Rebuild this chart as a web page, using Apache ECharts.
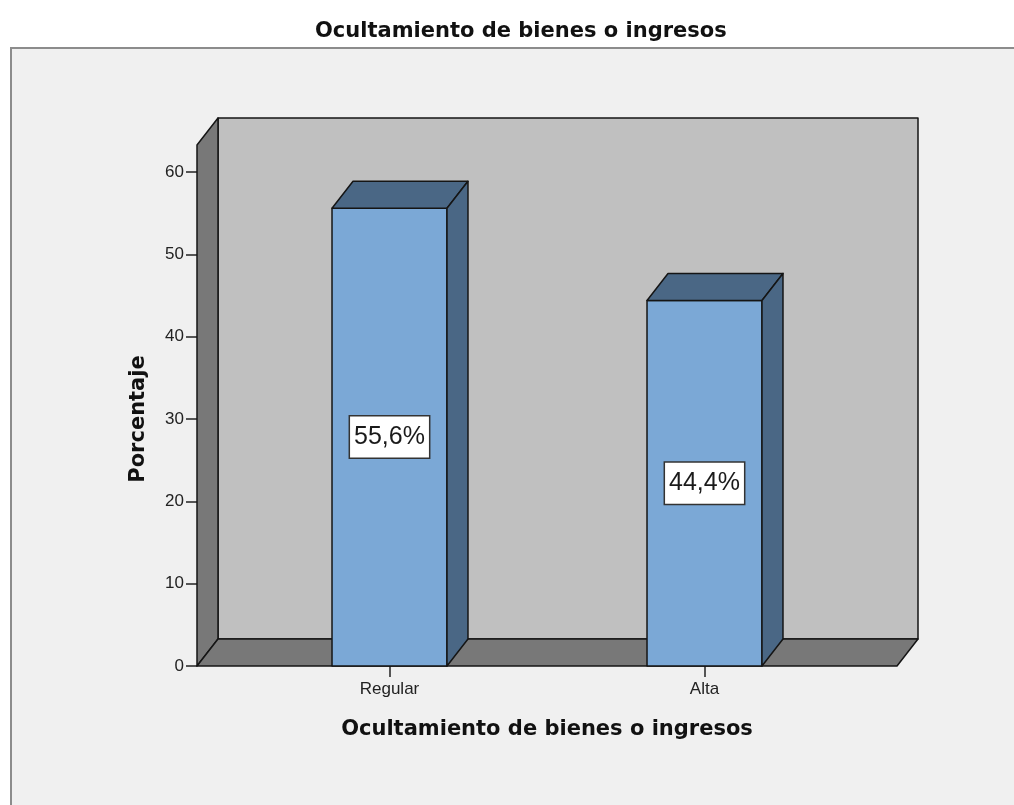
<!DOCTYPE html>
<html>
<head>
<meta charset="utf-8">
<script src="https://cdn.jsdelivr.net/npm/echarts@6/dist/echarts.min.js"></script>
<style>
  html, body { margin: 0; padding: 0; background: #fff; }
  #chart { width: 1014px; height: 805px; }
</style>
</head>
<body>
<div id="chart"></div>
<script>
// data
var categories = ["Regular", "Alta"];
var percentages = [55.6, 44.4];
var yMin = 0;
var yMax = 60;
var yStep = 10;

// 3d look
var DX = 21;
var DY = -27;
var WALL_PAD = 35;
var BAR_RATIO = 0.365;
var LINE = "#151515";

function fmtPct(v) {
  return v.toFixed(1).replace(".", ",") + "%";
}

function renderBox(params, api) {
  var cs = params.coordSys;
  var x0 = cs.x - WALL_PAD;
  var x1 = cs.x + cs.width + WALL_PAD;
  var yb = cs.y + cs.height;
  var yt = cs.y;
  var st = { stroke: LINE, lineWidth: 1.5, lineJoin: "round" };
  return {
    type: "group",
    children: [
      {
        type: "polygon",
        shape: { points: [[x0 + DX, yt + 2 * DY], [x1 + DX, yt + 2 * DY], [x1 + DX, yb + DY], [x0 + DX, yb + DY]] },
        style: Object.assign({ fill: "#c0c0c0" }, st)
      },
      {
        type: "polygon",
        shape: { points: [[x0, yb], [x0, yt + DY], [x0 + DX, yt + 2 * DY], [x0 + DX, yb + DY]] },
        style: Object.assign({ fill: "#787878" }, st)
      },
      {
        type: "polygon",
        shape: { points: [[x0, yb], [x1, yb], [x1 + DX, yb + DY], [x0 + DX, yb + DY]] },
        style: Object.assign({ fill: "#787878" }, st)
      }
    ]
  };
}

function renderBar(params, api) {
  var v = api.value(1);
  var base = api.coord([api.value(0), 0]);
  var top = api.coord([api.value(0), v]);
  var w = api.size([1, 0])[0] * BAR_RATIO;
  var xl = base[0] - w / 2;
  var xr = base[0] + w / 2;
  var yb = base[1];
  var yt = top[1];
  var st = { stroke: LINE, lineWidth: 1.5, lineJoin: "round" };
  return {
    type: "group",
    children: [
      {
        type: "polygon",
        shape: { points: [[xl, yb], [xr, yb], [xr, yt], [xl, yt]] },
        style: Object.assign({ fill: "#7ba8d6" }, st)
      },
      {
        type: "polygon",
        shape: { points: [[xl, yt], [xr, yt], [xr + DX, yt + DY], [xl + DX, yt + DY]] },
        style: Object.assign({ fill: "#4a6785" }, st)
      },
      {
        type: "polygon",
        shape: { points: [[xr, yb], [xr, yt], [xr + DX, yt + DY], [xr + DX, yb + DY]] },
        style: Object.assign({ fill: "#4a6785" }, st)
      },
      {
        type: "text",
        x: base[0],
        y: (yb + yt) / 2,
        style: {
          text: fmtPct(v),
          fontFamily: "Liberation Sans",
          fontSize: 25,
          fill: "#1a1a1a",
          align: "center",
          verticalAlign: "middle",
          backgroundColor: "#fff",
          borderColor: "#333",
          borderWidth: 1.5,
          padding: [9, 4, 7, 4]
        }
      }
    ]
  };
}

var chart = echarts.init(document.getElementById("chart"));

var option = {
  backgroundColor: "#fff",
  animation: false,
  title: {
    text: "Ocultamiento de bienes o ingresos",
    left: 310,
    top: 16,
    textStyle: {
      fontFamily: "DejaVu Sans",
      fontWeight: "bold",
      fontSize: 21,
      color: "#111"
    }
  },
  graphic: [
    {
      type: "rect",
      left: 10,
      top: 47,
      z: -10,
      shape: { width: 1012, height: 770 },
      style: { fill: "#f0f0f0", stroke: "#8c8c8c", lineWidth: 2 }
    }
  ],
  grid: {
    left: 232,
    right: 152,
    top: 172,
    bottom: 139,
    containLabel: false
  },
  xAxis: {
    type: "category",
    data: categories,
    axisLine: { show: false },
    axisTick: { show: true, alignWithLabel: true, length: 11, lineStyle: { color: "#222", width: 1.5 } },
    axisLabel: { margin: 15, fontFamily: "Liberation Sans", fontSize: 17, color: "#222" },
    splitLine: { show: false },
    name: "Ocultamiento de bienes o ingresos",
    nameLocation: "middle",
    nameGap: 53,
    nameTextStyle: { fontFamily: "DejaVu Sans", fontWeight: "bold", fontSize: 21, color: "#111" }
  },
  yAxis: {
    type: "value",
    min: yMin,
    max: yMax,
    interval: yStep,
    offset: WALL_PAD,
    axisLine: { show: false },
    axisTick: { show: true, length: 11, lineStyle: { color: "#222", width: 1.5 } },
    axisLabel: { margin: 13, fontFamily: "Liberation Sans", fontSize: 17, color: "#222" },
    splitLine: { show: false },
    name: "Porcentaje",
    nameLocation: "middle",
    nameGap: 48,
    nameTextStyle: { fontFamily: "DejaVu Sans", fontWeight: "bold", fontSize: 21, color: "#111" }
  },
  series: [
    {
      type: "custom",
      silent: true,
      clip: false,
      z: 1,
      data: [[0, 0]],
      renderItem: renderBox
    },
    {
      type: "custom",
      clip: false,
      z: 3,
      data: categories.map(function (c, i) { return [i, percentages[i]]; }),
      renderItem: renderBar
    }
  ]
};

chart.setOption(option);
</script>
</body>
</html>
